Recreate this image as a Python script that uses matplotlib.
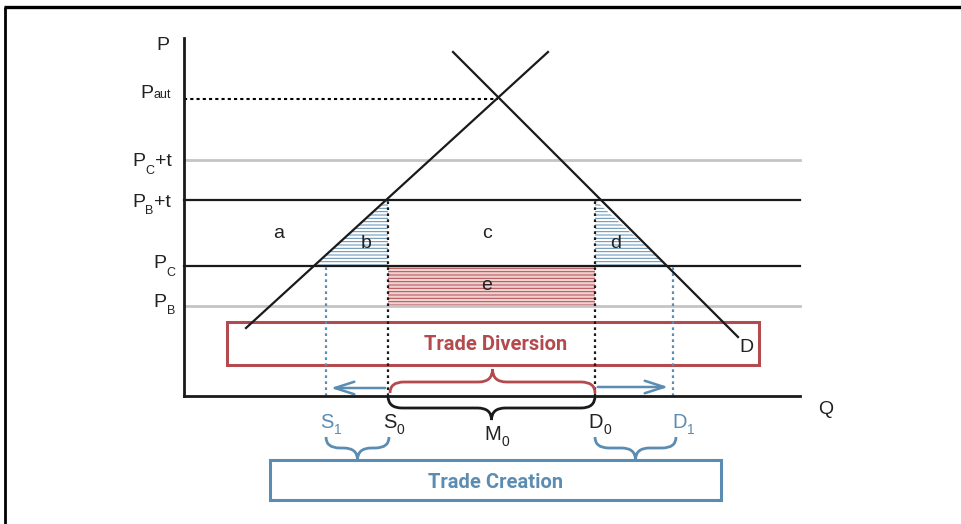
import numpy as np
import matplotlib.pyplot as plt
from matplotlib.path import Path
from matplotlib.patches import PathPatch, Polygon, Rectangle

plt.rcParams['font.family'] = ['Liberation Sans', 'DejaVu Sans']
plt.rcParams['hatch.linewidth'] = 0.7

narrow = ['Liberation Sans Narrow', 'Liberation Sans', 'DejaVu Sans']

# price levels (P units, origin at the axes corner)
price_main = ['P', 'P', 'P', 'P', 'P']
price_sub = ['aut', 'C', 'B', 'C', 'B']
price_tail = ['', '+t', '+t', '', '']
price_values = [297, 236, 196, 130, 90]
price_styles = ['dotted', 'gray', 'black', 'black', 'gray']
# label anchor (left x, baseline) and subscript drop
label_q = [-44, -52, -52, -31, -31]
label_p = [298, 230, 189, 128, 89]
label_drop = [1, 8, 7, 8, 8]

# supply and demand lines
supply_q = [62, 364]
supply_p = [68, 344]
demand_q = [269, 554]
demand_p = [344, 59]

# quantities
q_s1, q_s0, q_d0, q_d1 = 142, 204, 411, 489
q_aut = 314

area_labels = ['a', 'b', 'c', 'd', 'e']
area_q = [95, 182, 303, 432, 303]
area_p = [163, 152, 163, 152, 110]

qty_main = ['S', 'S', 'M', 'D', 'D']
qty_sub = ['1', '0', '0', '0', '1']
qty_q = [136, 199, 300, 404, 488]
qty_p = [-32, -32, -44, -32, -32]

blue = '#5b8db3'
red = '#b24a4e'
ink = '#222222'

fig = plt.figure(figsize=(9.62, 5.24), dpi=100)
ax = fig.add_axes([0, 0, 1, 1])
ax.set_xlim(-184, 778)
ax.set_ylim(-128, 396)
ax.axis('off')

# frame (top and left)
ax.plot([-180, 778], [389, 389], color='black', lw=2.4, solid_capstyle='butt')
ax.plot([-179, -179], [389, -128], color='black', lw=2.0, solid_capstyle='butt')


def sup_q(p):
    return supply_q[0] + (p - supply_p[0]) * (supply_q[1] - supply_q[0]) / (supply_p[1] - supply_p[0])


def dem_q(p):
    return demand_q[0] + (p - demand_p[0]) * (demand_q[1] - demand_q[0]) / (demand_p[1] - demand_p[0])


def sublabel(x, y, main, sub, tail='', color=ink, size=14, subsize=9, drop=7):
    t = ax.text(x, y, main, ha='left', va='baseline', fontsize=size, color=color, family=narrow)
    s = ax.annotate(sub, xy=(1, 0), xycoords=t, xytext=(0.5, 1.5 - drop), textcoords='offset pixels',
                    ha='left', va='bottom', fontsize=subsize, color=color, family=narrow)
    if tail:
        ax.annotate(tail, xy=(1, 0), xycoords=(s, t), xytext=(0.5, 0), textcoords='offset pixels',
                    ha='left', va='bottom', fontsize=size, color=color, family=narrow)


pBt = price_values[2]
pC = price_values[3]
pB = price_values[4]

# hatched areas
ax.add_patch(Polygon([[sup_q(pC), pC], [q_s0, pC], [q_s0, pBt]], closed=True,
                     facecolor='none', edgecolor=blue, lw=0, hatch='-----', zorder=1))
ax.add_patch(Polygon([[q_d0, pBt], [q_d0, pC], [dem_q(pC), pC]], closed=True,
                     facecolor='none', edgecolor=blue, lw=0, hatch='-----', zorder=1))
ax.add_patch(Rectangle((q_s0, pB), q_d0 - q_s0, pC - pB, facecolor='#f0d2d2',
                       edgecolor=red, lw=0, hatch='-----', zorder=1))

# price lines
for i, val in enumerate(price_values):
    st = price_styles[i]
    if st == 'dotted':
        ax.plot([0, q_aut], [val, val], color='black', lw=1.5, ls=(0, (1.5, 1.5)), zorder=2)
    elif st == 'gray':
        ax.plot([0, 616], [val, val], color='#c4c4c4', lw=2, zorder=2)
    else:
        ax.plot([0, 616], [val, val], color='#1a1a1a', lw=1.6, zorder=3)
    sublabel(label_q[i], label_p[i], price_main[i], price_sub[i], price_tail[i], drop=label_drop[i])

# supply and demand
ax.plot(supply_q, supply_p, color='#1a1a1a', lw=1.6, zorder=4)
ax.plot(demand_q, demand_p, color='#1a1a1a', lw=1.6, zorder=4)

# vertical dotted lines
for q in [q_s0, q_d0]:
    ax.plot([q, q], [0, pBt], color='#1a1a1a', lw=1.6, ls=(0, (1.2, 1.5)), zorder=3)
for q in [q_s1, q_d1]:
    ax.plot([q, q], [0, pC], color=blue, lw=1.6, ls=(0, (1.2, 1.5)), zorder=3)

# axes
ax.plot([0, 0], [0, 358], color='#1a1a1a', lw=2, zorder=5)
ax.plot([0, 616], [0, 0], color='#1a1a1a', lw=2, zorder=5)
ax.text(-21, 350, 'P', ha='center', va='center', fontsize=14, color=ink, family=narrow)
ax.text(642, -14, 'Q', ha='center', va='center', fontsize=14, color=ink)
ax.text(562, 48, 'D', ha='center', va='center', fontsize=14, color=ink)

for lab, q, p in zip(area_labels, area_q, area_p):
    ax.text(q, p, lab, ha='center', va='center', fontsize=14, color=ink)

# trade diversion box
ax.add_patch(Rectangle((43, 31), 532, 43, facecolor='none', edgecolor=red, lw=2.2, zorder=2))
ax.text(312, 52, 'Trade Diversion', ha='center', va='center', fontsize=14.5,
        fontweight='bold', color=red, family=['Roboto', 'DejaVu Sans'])

# trade creation box
ax.add_patch(Rectangle((86, -104), 451, 40, facecolor='none', edgecolor=blue, lw=2.2, zorder=2))
ax.text(312, -87, 'Trade Creation', ha='center', va='center', fontsize=14.5,
        fontweight='bold', color=blue, family=['Roboto', 'DejaVu Sans'])

# arrows
ax.annotate('', xy=(q_s1 + 2, 8), xytext=(q_s0, 8),
            arrowprops=dict(arrowstyle='->,head_length=1.4,head_width=0.45', color=blue, lw=1.8))
ax.annotate('', xy=(q_d1 - 2, 9), xytext=(q_d0, 9),
            arrowprops=dict(arrowstyle='->,head_length=1.4,head_width=0.45', color=blue, lw=1.8))


def brace(x0, x1, y_end, y_mid, y_tip, color):
    xc = (x0 + x1) / 2
    r = min(14, (x1 - x0) / 4)
    verts = [(x0, y_end), (x0, y_mid), (x0 + r, y_mid),
             (xc - r, y_mid),
             (xc, y_mid), (xc, y_tip),
             (xc, y_mid), (xc + r, y_mid),
             (x1 - r, y_mid),
             (x1, y_mid), (x1, y_end)]
    codes = [Path.MOVETO, Path.CURVE3, Path.CURVE3,
             Path.LINETO,
             Path.CURVE3, Path.CURVE3,
             Path.CURVE3, Path.CURVE3,
             Path.LINETO,
             Path.CURVE3, Path.CURVE3]
    ax.add_patch(PathPatch(Path(verts, codes), facecolor='none', edgecolor=color, lw=2, zorder=6))


brace(q_s0 + 2, q_d0, 3, 14, 27, red)
brace(q_s0, q_d0, 0, -12, -24, '#1a1a1a')
brace(q_s1, q_s0 + 1, -41, -52, -64, blue)
brace(q_d0, q_d1 + 3, -41, -52, -64, blue)

# quantity labels
for i in range(len(qty_main)):
    c = blue if qty_sub[i] == '1' else ink
    sublabel(qty_q[i], qty_p[i], qty_main[i], qty_sub[i], color=c, size=14.5, subsize=10, drop=6)

fig.savefig('out.png', dpi=100, facecolor='white')
